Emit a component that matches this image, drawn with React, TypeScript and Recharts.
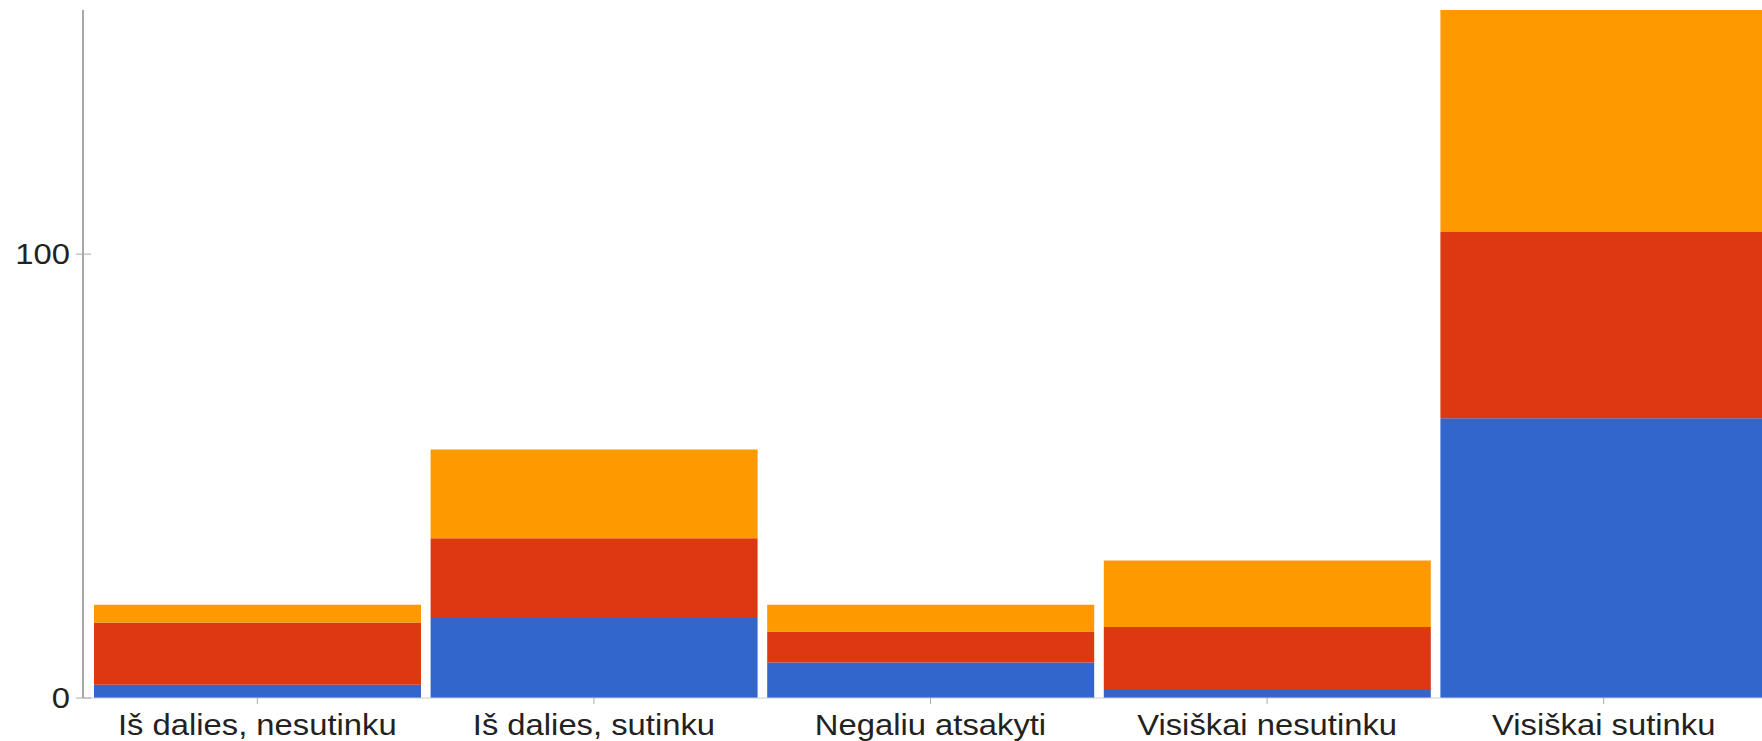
import React from "react";
import { BarChart, Bar, XAxis, YAxis } from "recharts";

const categories = [
  "Iš dalies, nesutinku",
  "Iš dalies, sutinku",
  "Negaliu atsakyti",
  "Visiškai nesutinku",
  "Visiškai sutinku",
];
const seriesBlue = [3, 18, 8, 2, 63];
const seriesRed = [14, 18, 7, 14, 42];
const seriesOrange = [4, 20, 6, 15, 50];
const yTicks = [0, 100];

const data = categories.map((c, i) => ({
  cat: c,
  a: seriesBlue[i],
  b: seriesRed[i],
  c: seriesOrange[i],
}));

const FONT = "'Liberation Sans', Arial, Helvetica, sans-serif";
const SX = 1.13;

const XTick = (props: any) => {
  const { x, y, payload } = props;
  return (
    <text
      transform={`translate(${x},${y + 29}) scale(${SX},1)`}
      textAnchor="middle"
      fontFamily={FONT}
      fontSize={29}
      fill="#222222"
    >
      {payload.value}
    </text>
  );
};

const YTick = (props: any) => {
  const { x, y, payload } = props;
  return (
    <g>
      <line x1={x - 7} x2={x + 8} y1={y} y2={y} stroke="#aaaaaa" strokeWidth={1} />
      <text
        transform={`translate(${x - 13},${y + 10}) scale(${SX},1)`}
        textAnchor="end"
        fontFamily={FONT}
        fontSize={29}
        fill="#222222"
      >
        {payload.value}
      </text>
    </g>
  );
};

export default function App() {
  return (
    <div
      style={{
        position: "fixed",
        left: 0,
        top: 0,
        width: 1762,
        height: 741,
        overflow: "hidden",
        background: "#ffffff",
      }}
    >
      <BarChart
        width={1778}
        height={741}
        data={data}
        margin={{ top: 10, right: 0, bottom: 0, left: 0 }}
        barCategoryGap={5}
      >
        <XAxis
          dataKey="cat"
          height={43}
          padding={{ left: 6, right: 6 }}
          tickSize={6}
          tickLine={{ stroke: "#aaaaaa" }}
          axisLine={{ stroke: "#cccccc" }}
          tick={<XTick />}
          interval={0}
        />
        <YAxis
          width={83}
          domain={[0, 155]}
          ticks={yTicks}
          tickLine={false}
          tickSize={0}
          tickMargin={0}
          axisLine={{ stroke: "#8a8a8a", strokeWidth: 1.5 }}
          tick={<YTick />}
        />
        <Bar dataKey="a" stackId="s" fill="#3366cc" isAnimationActive={false} />
        <Bar dataKey="b" stackId="s" fill="#dc3912" isAnimationActive={false} />
        <Bar dataKey="c" stackId="s" fill="#ff9900" isAnimationActive={false} />
      </BarChart>
    </div>
  );
}
